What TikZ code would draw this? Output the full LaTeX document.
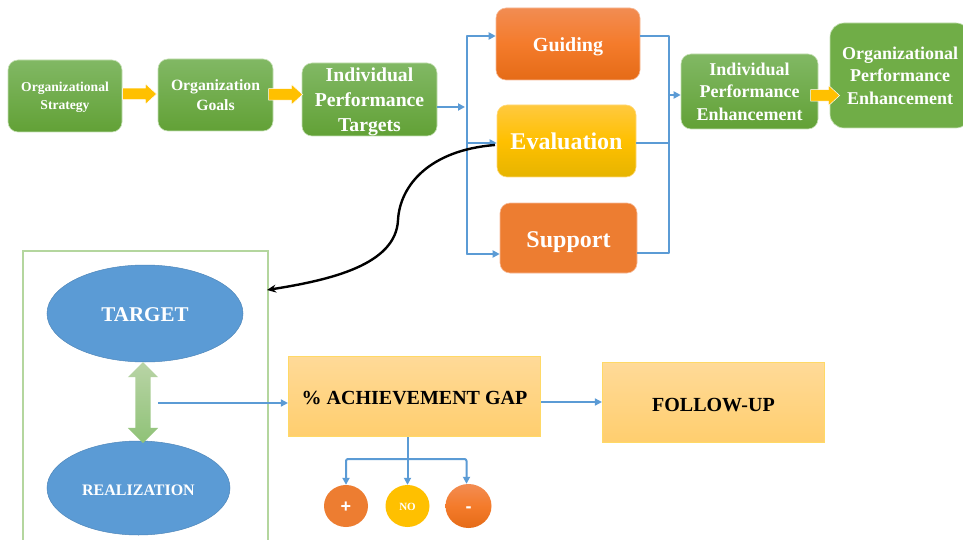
\documentclass[tikz,border=0pt]{standalone}
\usepackage{fontspec}
\setmainfont{Liberation Serif}
\newfontfamily\signfont{Liberation Sans}
\usetikzlibrary{shapes.geometric,shapes.arrows,arrows.meta,calc}
\definecolor{gtop}{HTML}{81B864}
\definecolor{gbot}{HTML}{62A136}
\definecolor{gflat}{HTML}{70AD47}
\definecolor{gedge}{HTML}{C5E0B4}
\definecolor{oflat}{HTML}{ED7D31}
\definecolor{otop}{HTML}{F28C52}
\definecolor{omid}{HTML}{F47B2B}
\definecolor{obot}{HTML}{E56B17}
\definecolor{ytop}{HTML}{FFC93F}
\definecolor{ymid}{HTML}{FFC000}
\definecolor{ybot}{HTML}{E6B400}
\definecolor{amber}{HTML}{FFC000}
\definecolor{paletop}{HTML}{FFDA98}
\definecolor{palebot}{HTML}{FFCE6E}
\definecolor{paleedge}{HTML}{FFD966}
\definecolor{bluef}{HTML}{5B9BD5}
\definecolor{blued}{HTML}{4F87BA}
\definecolor{dbl}{HTML}{B9D4A6}
\definecolor{dbr}{HTML}{8FC277}
\tikzset{
  x=1pt,y=-1pt,
  txt/.style={text=white,align=center,text depth=0pt},
  boxbase/.style={rectangle,rounded corners=10pt,inner sep=0pt,draw=gedge,line width=.6pt},
  greenbox/.style={boxbase,top color=gtop,bottom color=gbot},
  flatgreen/.style={boxbase,fill=gflat},
  orangegrad/.style={boxbase,draw=otop!60,top color=otop,bottom color=obot,middle color=omid},
  yellowgrad/.style={boxbase,draw=ytop!70,top color=ytop,bottom color=ybot,middle color=ymid},
  orangeflat/.style={boxbase,draw=otop!60,fill=oflat},
  palebox/.style={rectangle,inner sep=0pt,draw=paleedge,line width=.6pt,top color=paletop,bottom color=palebot,align=center,text=black,text depth=0pt},
  oval/.style={ellipse,inner sep=0pt,draw=blued,line width=.5pt,fill=bluef,text=white,text depth=0pt},
  disc/.style={ellipse,inner sep=0pt,text=white,text depth=0pt},
  blockarrow/.style={single arrow,fill=amber,draw=white,line width=.5pt,inner xsep=0pt,inner ysep=5.5pt,minimum width=20pt,single arrow head extend=4.5pt,single arrow tip angle=85,anchor=center},
  flow/.style={draw=bluef,line width=2pt,line join=round},
  flowtip/.style={flow,-{Triangle[length=7pt,width=7pt]}},
}
\begin{document}
\begin{tikzpicture}
\clip (0,0) rectangle (963,540);
\fill[white] (0,0) rectangle (963,540);

% top row
\node[greenbox,txt,minimum width=114pt,minimum height=72pt,font=\bfseries\fontsize{13.6}{18}\selectfont] (os) at (65,96) {Organizational\\Strategy};
\node[greenbox,txt,minimum width=115pt,minimum height=72pt,font=\bfseries\fontsize{15.7}{20}\selectfont] (og) at (215.5,95) {Organization\\Goals};
\node[greenbox,txt,minimum width=135pt,minimum height=73pt,font=\bfseries\fontsize{19.7}{25}\selectfont] (ipt) at (369.5,99.5) {Individual\\Performance\\Targets};
\node[orangegrad,txt,text height=16pt,minimum width=144pt,minimum height=72pt,font=\bfseries\fontsize{20}{24}\selectfont] (guiding) at (568,44) {Guiding};
\node[yellowgrad,txt,text height=18pt,minimum width=139pt,minimum height=72pt,font=\bfseries\fontsize{24}{28}\selectfont] (evaluation) at (566.5,141) {Evaluation};
\node[orangeflat,txt,text height=18pt,minimum width=137pt,minimum height=70pt,font=\bfseries\fontsize{24}{28}\selectfont] (support) at (568.5,238) {Support};
\node[greenbox,txt,minimum width=137pt,minimum height=75pt,font=\bfseries\fontsize{18}{22.5}\selectfont] (ipe) at (749.5,91.5) {Individual\\Performance\\Enhancement};
\node[flatgreen,rounded corners=14pt,txt,minimum width=140pt,minimum height=105pt,font=\bfseries\fontsize{18}{22.5}\selectfont] (ope) at (900,75.5) {Organizational\\Performance\\Enhancement};

% block arrows
\node[blockarrow,minimum height=34pt] (ar1) at (136.5,94) {};
\node[blockarrow,minimum height=34pt] (ar2) at (282.5,94.5) {};
\node[blockarrow,minimum height=29pt] (ar3) at (822,95.5) {};

% lower part
\node[rectangle,draw=gedge!80!gflat,line width=1.4pt,minimum width=245pt,minimum height=320pt,inner sep=0pt] (frame) at (145.5,411) {};
\node[oval,text height=16pt,minimum width=196pt,minimum height=97pt,font=\bfseries\fontsize{21}{25}\selectfont] (target) at (145,313.5) {TARGET};
\node[oval,text height=14pt,minimum width=183pt,minimum height=94pt,font=\bfseries\fontsize{16}{20}\selectfont] (realization) at (138.5,488) {REALIZATION};
\node[double arrow,rotate=90,anchor=center,minimum height=81pt,minimum width=30pt,double arrow head extend=7.5pt,double arrow tip angle=90,inner xsep=0pt,inner ysep=7.5pt,top color=dbl,bottom color=dbr,draw=none] (link) at (143,402.5) {};
\node[palebox,text height=16pt,minimum width=252.5pt,minimum height=80.5pt,font=\bfseries\fontsize{20}{24}\selectfont] (gap) at (414.5,396.5) {\% ACHIEVEMENT GAP};
\node[palebox,text height=17pt,minimum width=222.5pt,minimum height=80.5pt,font=\bfseries\fontsize{20}{24}\selectfont] (follow) at (713.5,402.5) {FOLLOW-UP};
\node[disc,fill=oflat,text height=13pt,minimum width=44pt,minimum height=42pt,font=\signfont\bfseries\fontsize{18}{20}\selectfont] (plus) at (346,506) {+};
\node[disc,fill=amber,text height=8pt,minimum width=44pt,minimum height=42pt,font=\bfseries\fontsize{11}{13}\selectfont] (no) at (407.5,506) {NO};
\node[disc,top color=otop,bottom color=obot,middle color=omid,text height=13pt,minimum width=46pt,minimum height=44pt,font=\signfont\bfseries\fontsize{18}{20}\selectfont] (minus) at (468.5,506) {-};

% bus coordinates
\coordinate (busin) at (465,107);
\coordinate (lt) at (467,36);
\coordinate (lm) at (467,143);
\coordinate (lb) at (467,254);
\coordinate (rt) at (669,36);
\coordinate (rm) at (669,143);
\coordinate (rb) at (669,253);
\coordinate (rout) at (669,95);
\coordinate (lnkout) at (158,403);
\coordinate (gapout) at (541,402);
\coordinate (gapbus) at (407.5,459);
\coordinate (blackstart) at (495,145);
\coordinate (blackend) at (267,290);

% blue connectors
\draw[flowtip] (ipt.east |- busin) -- (busin);
\draw[flow,line cap=round] (lt) -- (lb);
\draw[flowtip] (lt) -- (guiding.west |- lt);
\draw[flowtip] (lm) -- (evaluation.west |- lm);
\draw[flowtip] (lb) -- (support.west |- lb);
\draw[flow,line cap=round] (rt) -- (rb);
\draw[flow] (guiding.east |- rt) -- (rt);
\draw[flow] (evaluation.east |- rm) -- (rm);
\draw[flow] (support.east |- rb) -- (rb);
\draw[flowtip] (rout) -- (ipe.west |- rout);
\draw[flowtip,line width=1.6pt] (lnkout) -- (gap.west |- lnkout);
\draw[flowtip,line width=1.6pt] (gapout) -- (follow.west |- gapout);
\draw[flowtip] (gap.south -| no.north) -- (no.north);
\draw[flowtip,rounded corners=2pt] (gapbus) -| (plus.north);
\draw[flowtip,rounded corners=2pt] (gapbus) -| ($(minus.north)+(-2,0)$);

% black curve
\draw[black,line width=2.4pt,-{Stealth[length=9pt,width=8pt]}] (blackstart) .. controls (430,150) and (400,185) .. (398,220) .. controls (396,265) and (330,280) .. (blackend);
\end{tikzpicture}
\end{document}
